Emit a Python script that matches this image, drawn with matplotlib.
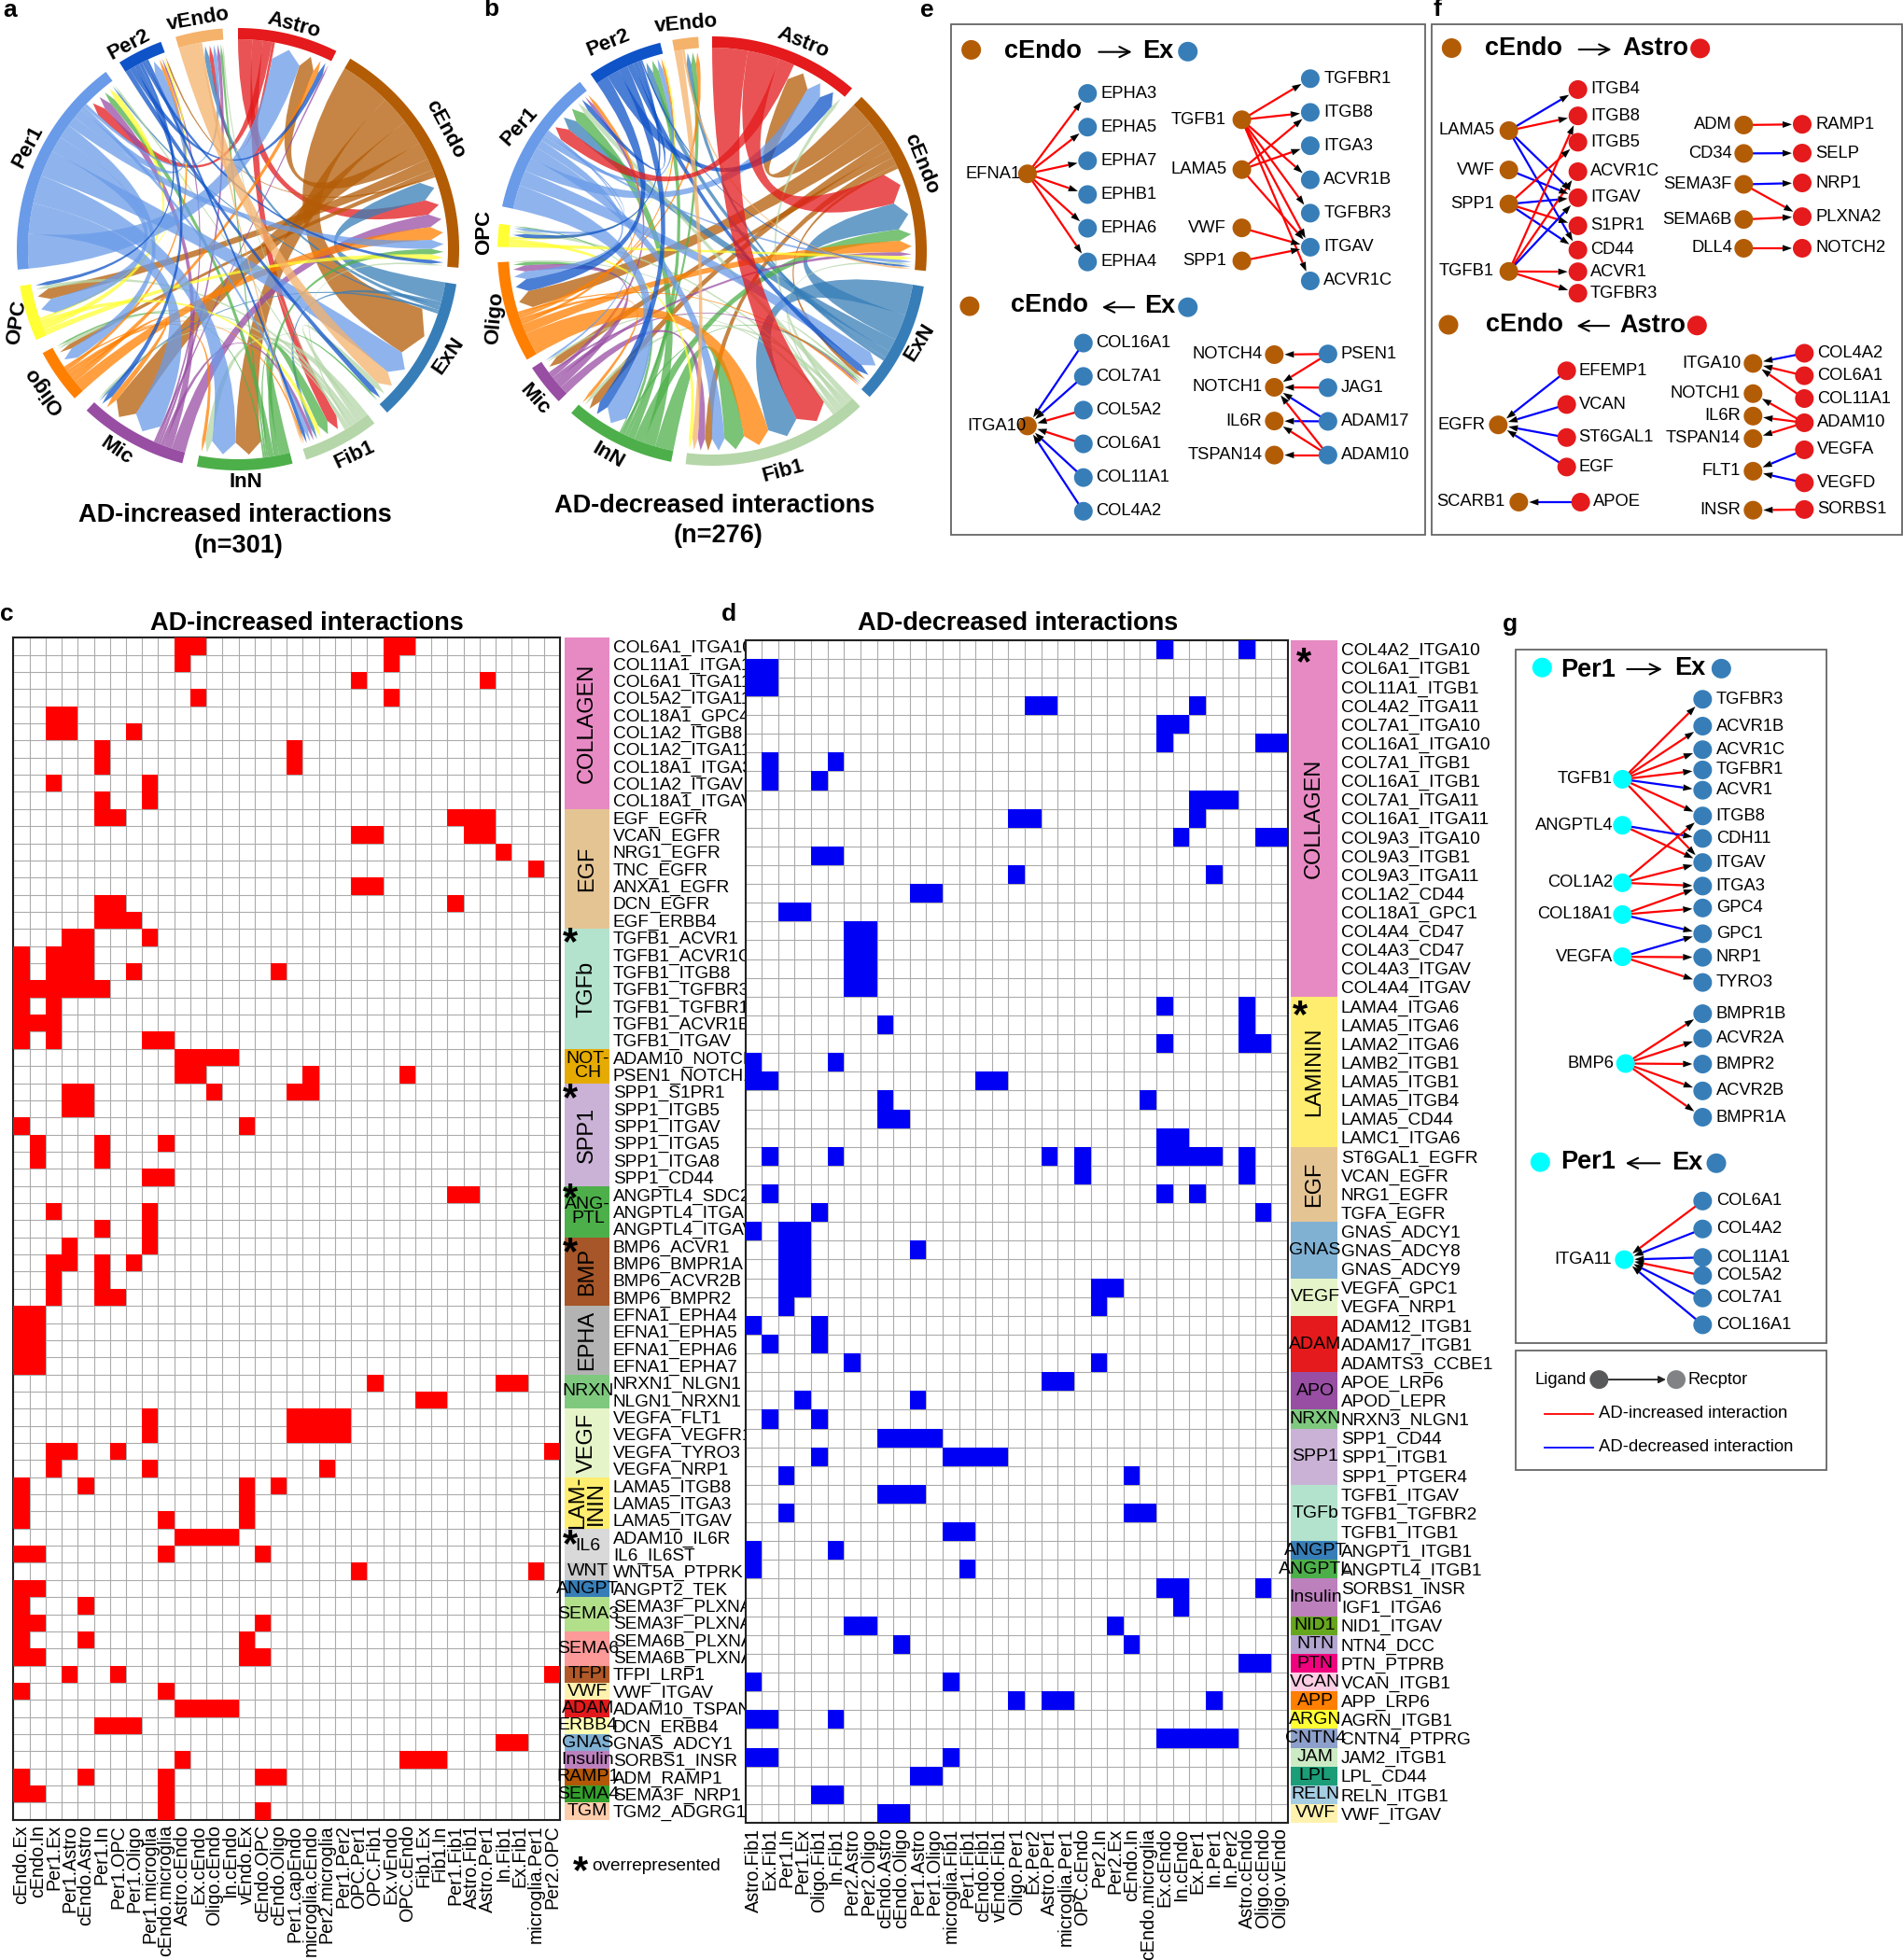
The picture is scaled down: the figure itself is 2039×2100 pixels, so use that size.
import numpy as np
import matplotlib
matplotlib.use("Agg")
import matplotlib.pyplot as plt
from matplotlib.colors import ListedColormap
from matplotlib.patches import Circle, PathPatch, Polygon, Rectangle
from matplotlib.path import Path

plt.rcParams['font.family'] = ['Liberation Sans', 'DejaVu Sans']

# ---- chord data, one value per ribbon
sectors = ["Astro", "cEndo", "ExN", "Fib1", "InN", "Mic", "Oligo", "OPC", "Per1", "Per2", "vEndo"]
sector_colors = ["#E41A1C", "#B35C06", "#377EB8", "#B5D6A8", "#4DAF4A", "#984EA3", "#FF7F00", "#FFFF33", "#6A9BE8", "#0F53C8", "#F5B26B"]

spans_a = [(90, 63.6), (59.5, -4.8), (-9.1, -47.6), (-51.9, -72), (-75.7, -100.7), (-104.6, -133.2),
           (-137.6, -152), (-155.8, -170.4), (-174.7, -233.3), (-237.6, -249.6), (-253.6, -266)]
spans_b = [(90, 49.3), (45.9, -5.3), (-9.5, -42.8), (-46.4, -97.1), (-101, -131), (-135.6, -147),
           (-149.6, -177), (-181.1, -187.3), (-192, -232), (-235.5, -256), (-259.3, -266.3)]

flows_a = [("Astro", "cEndo", 4), ("Astro", "Fib1", 3), ("Astro", "Per1", 2.5), ("Astro", "vEndo", 0.8),
           ("cEndo", "ExN", 13), ("cEndo", "InN", 7.5), ("cEndo", "Mic", 6.5), ("cEndo", "Astro", 4.5),
           ("cEndo", "OPC", 3), ("cEndo", "Oligo", 1.5), ("cEndo", "Per2", 0.5),
           ("ExN", "cEndo", 5), ("ExN", "Fib1", 1), ("ExN", "vEndo", 1), ("ExN", "Mic", 0.5), ("ExN", "Per1", 0.5),
           ("Fib1", "InN", 2), ("Fib1", "ExN", 1.5), ("Fib1", "OPC", 1), ("Fib1", "Oligo", 1), ("Fib1", "cEndo", 0.5),
           ("Fib1", "Mic", 0.5), ("Fib1", "Per1", 0.5), ("Fib1", "vEndo", 0.3),
           ("InN", "Fib1", 3), ("InN", "cEndo", 1.5), ("InN", "Per1", 1.5), ("InN", "ExN", 0.5), ("InN", "vEndo", 0.5), ("InN", "Oligo", 0.5),
           ("Mic", "cEndo", 3.5), ("Mic", "Per1", 2), ("Mic", "Fib1", 1), ("Mic", "vEndo", 0.7), ("Mic", "Per2", 0.6), ("Mic", "Astro", 0.5),
           ("Oligo", "cEndo", 3.5), ("Oligo", "Astro", 1.5), ("Oligo", "Mic", 1.5), ("Oligo", "InN", 1), ("Oligo", "Per2", 1), ("Oligo", "Fib1", 0.5),
           ("OPC", "cEndo", 1.5), ("OPC", "Per1", 1.5), ("OPC", "Fib1", 1.2), ("OPC", "Per2", 0.6),
           ("Per1", "Astro", 8.5), ("Per1", "Mic", 7.5), ("Per1", "InN", 7), ("Per1", "ExN", 6.5), ("Per1", "OPC", 4),
           ("Per1", "Oligo", 3.5), ("Per1", "cEndo", 2.5), ("Per1", "Per2", 2.5), ("Per1", "Fib1", 1), ("Per1", "vEndo", 0.8),
           ("Per2", "ExN", 1.5), ("Per2", "Astro", 1.5), ("Per2", "Mic", 1.5), ("Per2", "OPC", 1), ("Per2", "cEndo", 1), ("Per2", "Fib1", 1),
           ("vEndo", "ExN", 4), ("vEndo", "Fib1", 0.5)]

flows_b = [("cEndo", "Astro", 6), ("cEndo", "Oligo", 5.5), ("cEndo", "InN", 2.5), ("cEndo", "Mic", 2), ("cEndo", "Fib1", 2), ("cEndo", "ExN", 1),
           ("ExN", "Fib1", 8.5), ("ExN", "cEndo", 7), ("ExN", "Per1", 3.5), ("ExN", "Per2", 2), ("ExN", "vEndo", 1),
           ("Fib1", "Per1", 1.5), ("Fib1", "InN", 1), ("Fib1", "Astro", 1), ("Fib1", "OPC", 0.8), ("Fib1", "ExN", 0.7),
           ("Fib1", "cEndo", 0.5), ("Fib1", "Mic", 0.5), ("Fib1", "Oligo", 0.5),
           ("InN", "Fib1", 5.5), ("InN", "Per1", 3.5), ("InN", "cEndo", 3), ("InN", "Per2", 2), ("InN", "vEndo", 1),
           ("InN", "Oligo", 1), ("InN", "ExN", 0.5), ("InN", "OPC", 0.3),
           ("Mic", "Fib1", 2), ("Mic", "Oligo", 2), ("Mic", "cEndo", 1), ("Mic", "Per1", 1), ("Mic", "ExN", 0.5),
           ("Oligo", "Fib1", 7), ("Oligo", "cEndo", 3), ("Oligo", "Per1", 1), ("Oligo", "InN", 1), ("Oligo", "Per2", 0.8),
           ("Oligo", "vEndo", 0.8), ("Oligo", "ExN", 0.5),
           ("OPC", "cEndo", 1), ("OPC", "Fib1", 1), ("OPC", "Per2", 0.5),
           ("Per1", "InN", 7), ("Per1", "ExN", 4.5), ("Per1", "Astro", 4), ("Per1", "Fib1", 3.5), ("Per1", "Oligo", 2.5),
           ("Per1", "Per2", 1.5), ("Per1", "cEndo", 0.8), ("Per1", "OPC", 0.7), ("Per1", "Mic", 0.5),
           ("Per2", "Oligo", 4), ("Per2", "Astro", 4), ("Per2", "InN", 3), ("Per2", "ExN", 2), ("Per2", "Per1", 1.5),
           ("Per2", "OPC", 1), ("Per2", "cEndo", 0.5),
           ("vEndo", "Fib1", 1.5), ("vEndo", "cEndo", 0.5),
           ("Astro", "Fib1", 9), ("Astro", "cEndo", 8), ("Astro", "Per1", 4)]

# ---- heatmap c
cols_c = ["cEndo.Ex", "cEndo.In", "Per1.Ex", "Per1.Astro", "cEndo.Astro", "Per1.In", "Per1.OPC", "Per1.Oligo", "Per1.microglia",
          "cEndo.microglia", "Astro.cEndo", "Ex.cEndo", "Oligo.cEndo", "In.cEndo", "vEndo.Ex", "cEndo.OPC", "cEndo.Oligo",
          "Per1.capEndo", "microglia.cEndo", "Per2.microglia", "Per1.Per2", "OPC.Per1", "OPC.Fib1", "Ex.vEndo", "OPC.cEndo",
          "Fib1.Ex", "Fib1.In", "Per1.Fib1", "Astro.Fib1", "Astro.Per1", "In.Fib1", "Ex.Fib1", "microglia.Per1", "Per2.OPC"]
rows_c = ["COL6A1_ITGA10", "COL11A1_ITGA11", "COL6A1_ITGA11", "COL5A2_ITGA11", "COL18A1_GPC4", "COL1A2_ITGB8", "COL1A2_ITGA11",
          "COL18A1_ITGA3", "COL1A2_ITGAV", "COL18A1_ITGAV", "EGF_EGFR", "VCAN_EGFR", "NRG1_EGFR", "TNC_EGFR", "ANXA1_EGFR",
          "DCN_EGFR", "EGF_ERBB4", "TGFB1_ACVR1", "TGFB1_ACVR1C", "TGFB1_ITGB8", "TGFB1_TGFBR3", "TGFB1_TGFBR1", "TGFB1_ACVR1B",
          "TGFB1_ITGAV", "ADAM10_NOTCH1", "PSEN1_NOTCH1", "SPP1_S1PR1", "SPP1_ITGB5", "SPP1_ITGAV", "SPP1_ITGA5", "SPP1_ITGA8",
          "SPP1_CD44", "ANGPTL4_SDC2", "ANGPTL4_ITGA5", "ANGPTL4_ITGAV", "BMP6_ACVR1", "BMP6_BMPR1A", "BMP6_ACVR2B", "BMP6_BMPR2",
          "EFNA1_EPHA4", "EFNA1_EPHA5", "EFNA1_EPHA6", "EFNA1_EPHA7", "NRXN1_NLGN1", "NLGN1_NRXN1", "VEGFA_FLT1", "VEGFA_VEGFR1",
          "VEGFA_TYRO3", "VEGFA_NRP1", "LAMA5_ITGB8", "LAMA5_ITGA3", "LAMA5_ITGAV", "ADAM10_IL6R", "IL6_IL6ST", "WNT5A_PTPRK",
          "ANGPT2_TEK", "SEMA3F_PLXNA1", "SEMA3F_PLXNA2", "SEMA6B_PLXNA2", "SEMA6B_PLXNA4", "TFPI_LRP1", "VWF_ITGAV",
          "ADAM10_TSPAN14", "DCN_ERBB4", "GNAS_ADCY1", "SORBS1_INSR", "ADM_RAMP1", "SEMA3F_NRP1", "TGM2_ADGRG1"]
hits_c = [[10, 11, 23, 24], [10, 23], [21, 29], [11, 23], [2, 3], [2, 3, 7], [5, 17], [5, 17], [2, 8], [5, 8],
          [5, 6, 27, 28, 29], [21, 22, 28, 29], [30], [32], [21, 22], [5, 6, 27], [5, 6, 7],
          [3, 4, 8], [0, 2, 3, 4], [0, 2, 3, 4, 7, 16], [0, 1, 2, 3, 4, 5], [0, 2], [0, 1, 2], [0, 2, 8, 9],
          [10, 11, 12, 13], [10, 11, 18, 24], [3, 4, 12, 17, 18], [3, 4], [0, 14], [1, 5, 9], [1, 5], [8, 9],
          [27, 28], [2, 8], [5, 8], [3, 8], [2, 3, 5, 7], [2, 5], [2, 5, 6],
          [0, 1], [0, 1], [0, 1], [0, 1], [22, 30, 31], [25, 26], [8, 17, 18, 19, 20], [8, 17, 18, 19, 20],
          [2, 3, 6, 33], [2, 8, 19], [0, 4, 14, 16], [0, 14], [0, 9, 14], [10, 11, 12, 13], [0, 1, 9, 15], [21, 32],
          [0, 1], [0, 4], [0, 1, 15], [0, 4, 14], [0, 1, 14, 15], [3, 6, 33], [0, 9], [10, 11, 12, 13], [5, 6, 7],
          [30, 31], [10, 24, 25, 26], [0, 4, 9, 15, 16], [0, 1, 9], [9, 15]]
groups_c = ["COLLAGEN", "EGF", "TGFb", "NOT-\nCH", "SPP1", "ANG-\nPTL", "BMP", "EPHA", "NRXN", "VEGF", "LAM-\nININ", "IL6", "WNT", "ANGPT",
            "SEMA3", "SEMA6", "TFPI", "VWF", "ADAM", "ERBB4", "GNAS", "Insulin", "RAMP1", "SEMA4", "TGM"]
group_sizes_c = [10, 7, 7, 2, 6, 3, 4, 4, 2, 4, 3, 2, 1, 1, 2, 2, 1, 1, 1, 1, 1, 1, 1, 1, 1]
group_colors_c = ["#E78AC3", "#E5C494", "#B3E2CD", "#E6AB02", "#CAB2D6", "#4DAF4A", "#A65628", "#B3B3B3", "#7FC97F", "#E6F5C9", "#FFED6F",
                  "#D9D9D9", "#CCCCCC", "#377EB8", "#B2DF8A", "#FB9A99", "#B15928", "#FFF2AE", "#E31A1C", "#FFFFB3", "#80B1D3", "#BC80BD",
                  "#B35806", "#33A02C", "#FDCDAC"]
vertical_c = ["COLLAGEN", "EGF", "TGFb", "SPP1", "BMP", "EPHA", "VEGF", "LAM-\nININ"]

# ---- heatmap d
cols_d = ["Astro.Fib1", "Ex.Fib1", "Per1.In", "Per1.Ex", "Oligo.Fib1", "In.Fib1", "Per2.Astro", "Per2.Oligo", "cEndo.Astro", "cEndo.Oligo",
          "Per1.Astro", "Per1.Oligo", "microglia.Fib1", "Per1.Fib1", "cEndo.Fib1", "vEndo.Fib1", "Oligo.Per1", "Ex.Per2", "Astro.Per1",
          "microglia.Per1", "OPC.cEndo", "Per2.In", "Per2.Ex", "cEndo.In", "cEndo.microglia", "Ex.cEndo", "In.cEndo", "Ex.Per1", "In.Per1",
          "In.Per2", "Astro.cEndo", "Oligo.cEndo", "Oligo.vEndo"]
rows_d = ["COL4A2_ITGA10", "COL6A1_ITGB1", "COL11A1_ITGB1", "COL4A2_ITGA11", "COL7A1_ITGA10", "COL16A1_ITGA10", "COL7A1_ITGB1", "COL16A1_ITGB1",
          "COL7A1_ITGA11", "COL16A1_ITGA11", "COL9A3_ITGA10", "COL9A3_ITGB1", "COL9A3_ITGA11", "COL1A2_CD44", "COL18A1_GPC1", "COL4A4_CD47",
          "COL4A3_CD47", "COL4A3_ITGAV", "COL4A4_ITGAV", "LAMA4_ITGA6", "LAMA5_ITGA6", "LAMA2_ITGA6", "LAMB2_ITGB1", "LAMA5_ITGB1", "LAMA5_ITGB4",
          "LAMA5_CD44", "LAMC1_ITGA6", "ST6GAL1_EGFR", "VCAN_EGFR", "NRG1_EGFR", "TGFA_EGFR", "GNAS_ADCY1", "GNAS_ADCY8", "GNAS_ADCY9",
          "VEGFA_GPC1", "VEGFA_NRP1", "ADAM12_ITGB1", "ADAM17_ITGB1", "ADAMTS3_CCBE1", "APOE_LRP6", "APOD_LEPR", "NRXN3_NLGN1", "SPP1_CD44",
          "SPP1_ITGB1", "SPP1_PTGER4", "TGFB1_ITGAV", "TGFB1_TGFBR2", "TGFB1_ITGB1", "ANGPT1_ITGB1", "ANGPTL4_ITGB1", "SORBS1_INSR", "IGF1_ITGA6",
          "NID1_ITGAV", "NTN4_DCC", "PTN_PTPRB", "VCAN_ITGB1", "APP_LRP6", "AGRN_ITGB1", "CNTN4_PTPRG", "JAM2_ITGB1", "LPL_CD44", "RELN_ITGB1", "VWF_ITGAV"]
hits_d = [[25, 30], [0, 1], [0, 1], [17, 18, 27], [25, 26], [25, 31, 32], [1, 5], [1, 4], [27, 28, 29], [16, 17, 27], [26, 31, 32], [4, 5],
          [16, 28], [10, 11], [2, 3], [6, 7], [6, 7], [6, 7], [6, 7], [25, 30], [8, 30], [25, 30, 31], [0, 5], [0, 1, 14, 15], [8, 24],
          [8, 9], [25, 26], [1, 5, 18, 20, 25, 26, 27, 28, 30], [20, 30], [1, 25, 27], [4, 31], [0, 2, 3], [2, 3, 10], [2, 3],
          [2, 3, 21, 22], [2, 21], [0, 4], [1, 4], [6, 21], [18, 19], [3, 10], [1, 4], [8, 9, 10, 11], [4, 12, 13, 14, 15], [2, 23],
          [8, 9, 10], [2, 23, 24], [12, 13], [0, 5], [0, 13], [25, 26, 31], [26], [6, 7, 22], [9, 23], [30, 31], [0, 12],
          [16, 18, 19, 28], [0, 1, 5], [25, 26, 27, 28, 29], [0, 1, 12], [10, 11], [4, 5], [8, 9]]
groups_d = ["COLLAGEN", "LAMININ", "EGF", "GNAS", "VEGF", "ADAM", "APO", "NRXN", "SPP1", "TGFb", "ANGPT", "ANGPTL", "Insulin", "NID1", "NTN", "PTN",
            "VCAN", "APP", "ARGN", "CNTN4", "JAM", "LPL", "RELN", "VWF"]
group_sizes_d = [19, 8, 4, 3, 2, 3, 2, 1, 3, 3, 1, 1, 2, 1, 1, 1, 1, 1, 1, 1, 1, 1, 1, 1]
group_colors_d = ["#E78AC3", "#FFED6F", "#E5C494", "#80B1D3", "#E6F5C9", "#E41A1C", "#984EA3", "#7FC97F", "#CAB2D6", "#B3E2CD", "#377EB8", "#4DAF4A",
                  "#BC80BD", "#66A61E", "#B3A5D0", "#F0027F", "#FCCDE5", "#FF7F00", "#FFFF33", "#8DA0CB", "#CCEBC5", "#1B9E77", "#A6CEE3", "#FFF2AE"]
vertical_d = ["COLLAGEN", "LAMININ", "EGF"]

# ---- networks: edges are (ligand, receptor, "r" or "b")
edges_e1 = [("EFNA1", t, "r") for t in ["EPHA3", "EPHA5", "EPHA7", "EPHB1", "EPHA6", "EPHA4"]] + \
           [("TGFB1", t, "r") for t in ["TGFBR1", "ITGB8", "ACVR1B", "TGFBR3", "ITGAV", "ACVR1C"]] + \
           [("LAMA5", "ITGB8", "r"), ("LAMA5", "ITGA3", "r"), ("LAMA5", "ITGAV", "r"), ("VWF", "ITGAV", "r"), ("SPP1", "ITGAV", "r")]
edges_e2 = [("COL16A1", "ITGA10", "b"), ("COL7A1", "ITGA10", "b"), ("COL5A2", "ITGA10", "r"), ("COL6A1", "ITGA10", "r"),
            ("COL11A1", "ITGA10", "b"), ("COL4A2", "ITGA10", "b"), ("PSEN1", "NOTCH4", "r"), ("PSEN1", "NOTCH1", "r"), ("JAG1", "NOTCH1", "r"),
            ("ADAM17", "NOTCH1", "b"), ("ADAM17", "IL6R", "b"), ("ADAM10", "NOTCH1", "r"), ("ADAM10", "IL6R", "r"), ("ADAM10", "TSPAN14", "r")]
edges_f1 = [("LAMA5", "ITGB4", "b"), ("LAMA5", "ITGB8", "r"), ("LAMA5", "ITGAV", "b"), ("LAMA5", "CD44", "b"), ("VWF", "ITGAV", "b"),
            ("SPP1", "ITGB5", "r"), ("SPP1", "ITGAV", "b"), ("SPP1", "S1PR1", "r"), ("SPP1", "CD44", "b"), ("TGFB1", "ITGB8", "r"),
            ("TGFB1", "ACVR1C", "r"), ("TGFB1", "ITGAV", "b"), ("TGFB1", "ACVR1", "r"), ("TGFB1", "TGFBR3", "r"), ("ADM", "RAMP1", "r"),
            ("CD34", "SELP", "b"), ("SEMA3F", "NRP1", "b"), ("SEMA3F", "PLXNA2", "r"), ("SEMA6B", "PLXNA2", "r"), ("DLL4", "NOTCH2", "r")]
edges_f2 = [("EFEMP1", "EGFR", "b"), ("VCAN", "EGFR", "b"), ("ST6GAL1", "EGFR", "b"), ("EGF", "EGFR", "b"), ("APOE", "SCARB1", "b"),
            ("COL4A2", "ITGA10", "b"), ("COL6A1", "ITGA10", "r"), ("COL11A1", "ITGA10", "r"), ("ADAM10", "NOTCH1", "r"), ("ADAM10", "IL6R", "r"),
            ("ADAM10", "TSPAN14", "r"), ("VEGFA", "FLT1", "b"), ("VEGFD", "FLT1", "b"), ("SORBS1", "INSR", "r")]
edges_g1 = [("TGFB1", "TGFBR3", "r"), ("TGFB1", "ACVR1B", "r"), ("TGFB1", "ACVR1C", "r"), ("TGFB1", "TGFBR1", "r"), ("TGFB1", "ACVR1", "b"),
            ("TGFB1", "ITGB8", "r"), ("TGFB1", "ITGAV", "r"), ("ANGPTL4", "CDH11", "b"), ("ANGPTL4", "ITGAV", "r"), ("COL1A2", "ITGB8", "r"),
            ("COL1A2", "ITGAV", "r"), ("COL1A2", "ITGA3", "r"), ("COL18A1", "ITGA3", "r"), ("COL18A1", "GPC4", "r"), ("COL18A1", "GPC1", "b"),
            ("VEGFA", "GPC1", "b"), ("VEGFA", "NRP1", "r"), ("VEGFA", "TYRO3", "r"), ("BMP6", "BMPR1B", "r"), ("BMP6", "ACVR2A", "r"),
            ("BMP6", "BMPR2", "r"), ("BMP6", "ACVR2B", "r"), ("BMP6", "BMPR1A", "r")]
edges_g2 = [("COL6A1", "ITGA11", "r"), ("COL4A2", "ITGA11", "b"), ("COL11A1", "ITGA11", "b"), ("COL5A2", "ITGA11", "r"), ("COL7A1", "ITGA11", "b"),
            ("COL16A1", "ITGA11", "b")]

# ---- layout (node: x, y, label x) measured in the crop coordinates of each panel
BROWN, STEEL, RED2, CYAN = "#B35C06", "#377EB8", "#E41A1C", "#00FFFF"
layout_e1 = {"EFNA1": (293, 495, 272), "TGFB1": (960, 341, 912), "LAMA5": (960, 483, 915), "VWF": (960, 649, 912), "SPP1": (960, 743, 912)}
right_e1 = {"EPHA3": (480, 266, 520), "EPHA5": (480, 362, 520), "EPHA7": (480, 458, 520), "EPHB1": (480, 554, 520), "EPHA6": (480, 650, 520),
            "EPHA4": (480, 746, 520), "TGFBR1": (1173, 224, 1215), "ITGB8": (1173, 320, 1215), "ITGA3": (1173, 415, 1215), "ACVR1B": (1173, 512, 1215),
            "TGFBR3": (1173, 607, 1215), "ITGAV": (1173, 704, 1215), "ACVR1C": (1173, 800, 1215)}
layout_e2 = {"ITGA10": (293, 1213, 288), "NOTCH4": (1061, 1010, 1023), "NOTCH1": (1061, 1103, 1023), "IL6R": (1061, 1199, 1023), "TSPAN14": (1061, 1296, 1023)}
right_e2 = {"COL16A1": (467, 977, 507), "COL7A1": (467, 1072, 507), "COL5A2": (467, 1168, 507), "COL6A1": (467, 1264, 507), "COL11A1": (467, 1360, 507),
            "COL4A2": (467, 1456, 507), "PSEN1": (1228, 1008, 1268), "JAG1": (1228, 1104, 1268), "ADAM17": (1228, 1200, 1268), "ADAM10": (1228, 1296, 1268)}
layout_f1 = {"LAMA5": (290, 372, 245), "VWF": (290, 484, 245), "SPP1": (290, 581, 242), "TGFB1": (290, 773, 242), "ADM": (1045, 356, 1008), "CD34": (1045, 437, 1008),
             "SEMA3F": (1045, 525, 1008), "SEMA6B": (1045, 625, 1008), "DLL4": (1045, 707, 1008)}
right_f1 = {"ITGB4": (512, 255, 552), "ITGB8": (512, 330, 552), "ITGB5": (512, 405, 552), "ACVR1C": (512, 489, 552), "ITGAV": (512, 563, 552), "S1PR1": (512, 643, 552),
            "CD44": (512, 712, 552), "ACVR1": (512, 774, 552), "TGFBR3": (512, 835, 552), "RAMP1": (1233, 354, 1276), "SELP": (1233, 436, 1276), "NRP1": (1233, 521, 1276),
            "PLXNA2": (1233, 617, 1276), "NOTCH2": (1233, 707, 1276)}
layout_f2 = {"EGFR": (256, 1210, 215), "SCARB1": (322, 1430, 278), "ITGA10": (1075, 1035, 1035), "NOTCH1": (1075, 1121, 1035), "IL6R": (1075, 1185, 1035),
             "TSPAN14": (1075, 1249, 1035), "FLT1": (1075, 1342, 1035), "INSR": (1075, 1453, 1035)}
right_f2 = {"EFEMP1": (476, 1056, 515), "VCAN": (476, 1152, 515), "ST6GAL1": (476, 1246, 515), "EGF": (476, 1330, 515), "APOE": (521, 1430, 562), "COL4A2": (1240, 1006, 1281),
            "COL6A1": (1240, 1070, 1281), "COL11A1": (1240, 1135, 1281), "ADAM10": (1240, 1204, 1281), "VEGFA": (1240, 1281, 1281), "VEGFD": (1240, 1375, 1281), "SORBS1": (1240, 1451, 1281)}
layout_g1 = {"TGFB1": (415, 264, 382), "ANGPTL4": (415, 348, 384), "COL1A2": (415, 453, 385), "COL18A1": (415, 511, 382), "VEGFA": (415, 588, 385), "BMP6": (425, 783, 387)}
right_g1 = {n: (673, y, 716) for n, y in [("TGFBR3", 118), ("ACVR1B", 167), ("ACVR1C", 210), ("TGFBR1", 247), ("ACVR1", 284), ("ITGB8", 331), ("CDH11", 372), ("ITGAV", 416),
                                          ("ITGA3", 459), ("GPC4", 499), ("GPC1", 546), ("NRP1", 589), ("TYRO3", 635), ("BMPR1B", 692), ("ACVR2A", 737), ("BMPR2", 784),
                                          ("ACVR2B", 833), ("BMPR1A", 881)]}
layout_g2 = {"ITGA11": (421, 1141, 382)}
right_g2 = {n: (673, y, 716) for n, y in [("COL6A1", 1034), ("COL4A2", 1085), ("COL11A1", 1137), ("COL5A2", 1170), ("COL7A1", 1211), ("COL16A1", 1260)]}

fig = plt.figure(figsize=(20.4, 21), dpi=100, facecolor="white")
W, H = 2040.0, 2100.0


def px_axes(l, t, r, b, z):
    return fig.add_axes([l / W, 1 - b / H, (r - l) / W, (b - t) / H], zorder=z)


canvas = px_axes(0, 0, W, H, 5)
canvas.set_xlim(0, W)
canvas.set_ylim(H, 0)
canvas.axis("off")


def polar(cx, cy, r, deg):
    t = np.deg2rad(deg)
    return cx + r * np.cos(t), cy - r * np.sin(t)


def arc(cx, cy, r, a, b, n=40):
    return [polar(cx, cy, r, d) for d in np.linspace(a, b, n)]


def chord(cx, cy, R, spans, flows, labels):
    place = {}
    for i, s in enumerate(sectors):
        a0, a1 = spans[i]
        poly = arc(cx, cy, R, a0, a1) + arc(cx, cy, R - 12, a1, a0)
        canvas.add_patch(Polygon(poly, fc=sector_colors[i], ec="none"))
        out = sorted([f for f in flows if f[0] == s], key=lambda f: -f[2])
        inc = sorted([f for f in flows if f[1] == s], key=lambda f: -f[2])
        total = sum(f[2] for f in out + inc)
        k = (a0 - a1) / total
        pos = a0
        for f in out:
            place[(f, "s")] = (pos, pos - f[2] * k)
            pos -= f[2] * k
        for f in inc:
            place[(f, "t")] = (pos, pos - f[2] * k)
            pos -= f[2] * k
    rs, rb, rt = R - 12, R * 0.875, R * 0.93
    for f in flows:
        a1, a2 = place[(f, "s")]
        b1, b2 = place[(f, "t")]
        col = sector_colors[sectors.index(f[0])]
        verts = arc(cx, cy, rs, a1, a2, 12)
        codes = [Path.MOVETO] + [Path.LINETO] * 11
        verts += [(cx, cy), polar(cx, cy, rb, b1), polar(cx, cy, rt, (b1 + b2) / 2), polar(cx, cy, rb, b2), (cx, cy), polar(cx, cy, rs, a1)]
        codes += [Path.CURVE3, Path.CURVE3, Path.LINETO, Path.LINETO, Path.CURVE3, Path.CURVE3]
        canvas.add_patch(PathPatch(Path(verts, codes), fc=col, ec="none", alpha=0.75))
    for name, x, y, rot in labels:
        canvas.text(x, y, name, fontsize=16, fontweight="bold", rotation=rot, rotation_mode="anchor", ha="center", va="center")


labels_a = [("Astro", 315, 27, -15), ("cEndo", 477, 138, -62), ("ExN", 480, 381, 55), ("Fib1", 380, 487, 25), ("InN", 263, 517, 0),
            ("Mic", 125, 483, -35), ("Oligo", 48, 418, 126), ("OPC", 18, 345, 82), ("Per1", 30, 157, 62), ("Per2", 138, 48, 28), ("vEndo", 212, 21, 10)]
labels_b = [("Astro", 860, 46, -22), ("cEndo", 987, 175, -68), ("ExN", 985, 367, 58), ("Fib1", 839, 505, 15), ("InN", 652, 488, -30),
            ("Mic", 573, 428, -48), ("Oligo", 530, 341, 85), ("OPC", 519, 249, 90), ("Per1", 557, 135, 48), ("Per2", 652, 46, 22), ("vEndo", 735, 26, 5)]
chord(255, 267, 237, spans_a, flows_a, labels_a)
chord(763, 269, 230, spans_b, flows_b, labels_b)
canvas.text(252, 552, "AD-increased interactions", fontsize=19.5, fontweight="bold", ha="center", va="center")
canvas.text(256, 585, "(n=301)", fontsize=19.5, fontweight="bold", ha="center", va="center")
canvas.text(766, 542, "AD-decreased interactions", fontsize=19.5, fontweight="bold", ha="center", va="center")
canvas.text(770, 574, "(n=276)", fontsize=19.5, fontweight="bold", ha="center", va="center")


def heat(l, t, r, b, rows, cols, hits, color, z):
    ax = px_axes(l, t, r, b, z)
    mat = np.zeros((len(rows), len(cols)))
    for i, h in enumerate(hits):
        mat[i, h] = 1
    ax.pcolormesh(np.ma.masked_equal(mat, 0), cmap=ListedColormap([color]), vmin=0, vmax=1, linewidth=0, zorder=3)
    ax.set_xticks(np.arange(len(cols) + 1), minor=True)
    ax.set_yticks(np.arange(len(rows) + 1), minor=True)
    ax.grid(which="minor", color="#ababab", linewidth=0.8, zorder=1)
    ax.set_axisbelow(True)
    ax.invert_yaxis()
    ax.set_xticks(np.arange(len(cols)) + 0.5, cols, rotation=90, fontsize=14.2)
    ax.set_yticks(np.arange(len(rows)) + 0.5, rows, fontsize=13.7)
    ax.yaxis.tick_right()
    ax.tick_params(which="both", length=0, pad=4)
    ax.tick_params(axis="y", which="major", pad=41)
    for s in ax.spines.values():
        s.set_linewidth(1.5)
        s.set_color("#222222")
    return ax


heat(14.5, 683.3, 600, 1949.8, rows_c, cols_c, hits_c, "#FF0000", 2)
heat(798.6, 685.6, 1380, 1953, rows_d, cols_d, hits_d, "#0000F5", 3)


def group_bar(x0, x1, top, bottom, sizes, names, colors, vertical):
    h = (bottom - top) / sum(sizes)
    y = top
    for n, c, s in zip(names, colors, sizes):
        canvas.add_patch(Rectangle((x0, y), x1 - x0, s * h, fc=c, ec="none"))
        if n in vertical:
            canvas.text((x0 + x1) / 2, y + s * h / 2, n, rotation=90, fontsize=17, ha="center", va="center", ma="center", linespacing=0.85)
        else:
            canvas.text((x0 + x1) / 2 + 1, y + s * h / 2, n, fontsize=14, ha="center", va="center", linespacing=0.85)
        y += s * h


group_bar(604.6, 653, 683.3, 1949.8, group_sizes_c, groups_c, group_colors_c, vertical_c)
group_bar(1383.4, 1432.8, 685.6, 1953, group_sizes_d, groups_d, group_colors_d, vertical_d)

canvas.text(329, 668, "AD-increased interactions", fontsize=19.5, fontweight="bold", ha="center", va="center")
canvas.text(1091, 668, "AD-decreased interactions", fontsize=19.5, fontweight="bold", ha="center", va="center")
for x, y in [(611, 1004), (611, 1171), (611, 1278), (611, 1336), (611, 1649), (1397, 704), (1393, 1082), (622, 1999)]:
    canvas.text(x, y + 7, "*", fontsize=30, fontweight="bold", ha="center", va="center")
canvas.text(634, 1999, "overrepresented", fontsize=13.7, ha="left", va="center")

for t, x, y in [("a", 11, 11), ("b", 526, 10), ("e", 993, 11), ("f", 1540, 10), ("c", 7, 658), ("d", 781, 658), ("g", 1618, 669)]:
    canvas.text(x, y, t, fontsize=19, fontweight="bold", ha="center", va="center")

EDGE = {"r": "#FF0000", "b": "#0000FF"}


def network(ox, oy, sx, sy, left, right, edges, left_col, right_col):
    pts = {}
    for n, (x, y, lx) in left.items():
        pts[n] = (ox + x / sx, oy + y / sy, ox + lx / sx, left_col, "right")
    for n, (x, y, lx) in right.items():
        pts[n] = (ox + x / sx, oy + y / sy, ox + lx / sx, right_col, "left")
    for a, b, c in edges:
        x0, y0 = pts[a][:2]
        x1, y1 = pts[b][:2]
        d = np.hypot(x1 - x0, y1 - y0)
        ux, uy = (x1 - x0) / d, (y1 - y0) / d
        tip = (x1 - 11 * ux, y1 - 11 * uy)
        base = (x1 - 21 * ux, y1 - 21 * uy)
        canvas.plot([x0, base[0]], [y0, base[1]], color=EDGE[c], lw=1.6, zorder=2, solid_capstyle="butt")
        canvas.add_patch(Polygon([tip, (base[0] - 3.5 * uy, base[1] + 3.5 * ux), (base[0] + 3.5 * uy, base[1] - 3.5 * ux)], fc="black", ec="none", zorder=3))
    for n, (x, y, lx, col, ha) in pts.items():
        canvas.add_patch(Circle((x, y), 10, fc=col, ec="none", zorder=4))
        canvas.text(lx, y, n, fontsize=13.2, ha=ha, va="center", zorder=5)


def header(ox, oy, sx, sy, n0, t0, a0, a1, ay, t1, n1, name0, name1, c0, c1):
    canvas.add_patch(Circle((ox + n0[0] / sx, oy + n0[1] / sy), 10.5, fc=c0, ec="none"))
    canvas.add_patch(Circle((ox + n1[0] / sx, oy + n1[1] / sy), 10.5, fc=c1, ec="none"))
    canvas.text(ox + t0[0] / sx, oy + t0[1] / sy, name0, fontsize=19.5, fontweight="bold", ha="left", va="center")
    canvas.text(ox + t1[0] / sx, oy + t1[1] / sy, name1, fontsize=19.5, fontweight="bold", ha="left", va="center")
    canvas.annotate("", xy=(ox + a1 / sx, oy + ay / sy), xytext=(ox + a0 / sx, oy + ay / sy),
                    arrowprops=dict(arrowstyle="->", color="black", lw=1.5, mutation_scale=20, shrinkA=0, shrinkB=0))


def box(l, t, r, b):
    canvas.add_patch(Rectangle((l, t), r - l, b - t, fc="none", ec="#666666", lw=1.3))


box(1019, 26, 1527, 572.6)
box(1534, 26, 2038, 572.6)
box(1624, 696, 1957, 1439)
box(1624, 1447, 1957, 1575)

se, sy_top = (1000, 0, 2.904, 2.658), (1520, 0, 3.0, 2.658)
sg = (1600, 680, 3.0, 1.704)
header(*se, (118, 142), (222, 145), 515, 618, 148, (652, 145), (792, 147), "cEndo", "Ex", BROWN, STEEL)
header(*se, (113, 872), (242, 870), 625, 525, 875, (658, 872), (792, 875), "cEndo", "Ex", BROWN, STEEL)
network(*se, layout_e1, right_e1, edges_e1, BROWN, STEEL)
network(*se, layout_e2, right_e2, edges_e2, BROWN, STEEL)
header(*sy_top, (106, 137), (213, 137), 515, 620, 141, (655, 138), (905, 138), "cEndo", "Astro", BROWN, RED2)
header(*sy_top, (96, 925), (217, 925), 612, 508, 928, (645, 927), (895, 927), "cEndo", "Astro", BROWN, RED2)
network(*sy_top, layout_f1, right_f1, edges_f1, BROWN, RED2)
network(*sy_top, layout_f2, right_f2, edges_f2, BROWN, RED2)
header(*sg, (157, 60), (217, 65), 430, 543, 63, (582, 62), (733, 62), "Per1", "Ex", CYAN, STEEL)
header(*sg, (151, 963), (217, 962), 535, 425, 965, (572, 965), (717, 965), "Per1", "Ex", CYAN, STEEL)
network(*sg, layout_g1, right_g1, edges_g1, CYAN, STEEL)
network(*sg, layout_g2, right_g2, edges_g2, CYAN, STEEL)

# legend of panel g
network(*sg, {"Ligand": (340, 1360, 300)}, {"Recptor": (588, 1360, 625)}, [], "#58595B", "#808285")
x0, x1 = 1600 + 370 / 3, 1600 + 555 / 3
yl = 680 + 1360 / 1.704
canvas.annotate("", xy=(x1, yl), xytext=(x0, yl), arrowprops=dict(arrowstyle="-|>", color="#222222", lw=1.3, mutation_scale=11, shrinkA=0, shrinkB=0))
for col, y, s in [("#FF0000", 1422, "AD-increased interaction"), ("#0000FF", 1484, "AD-decreased interaction")]:
    yy = 680 + y / 1.704
    canvas.plot([1600 + 165 / 3, 1600 + 320 / 3], [yy, yy], color=col, lw=1.3)
    canvas.text(1600 + 338 / 3, yy, s, fontsize=13.3, ha="left", va="center")

fig.savefig("out.png", dpi=100)
